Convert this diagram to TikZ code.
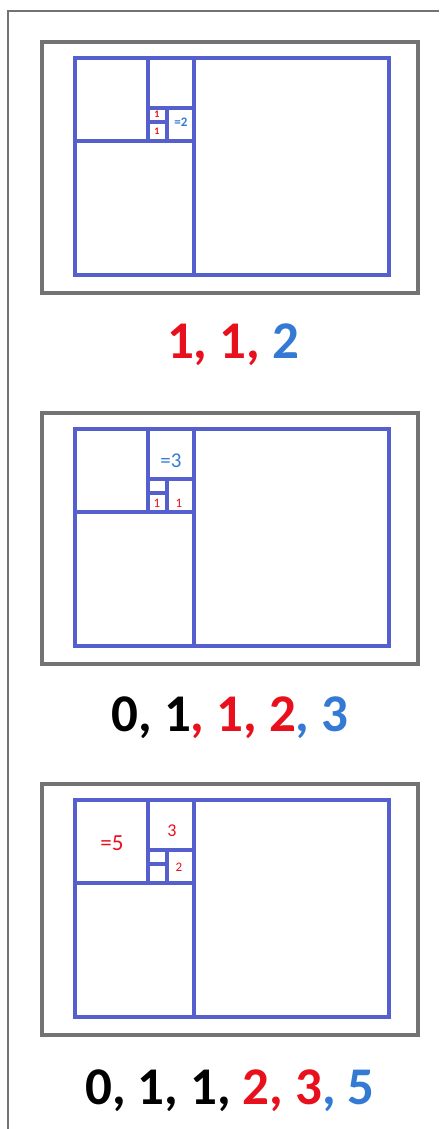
\documentclass[tikz,border=0pt]{standalone}
\usepackage{fontspec}
\setmainfont{Carlito}
\usetikzlibrary{positioning}
\definecolor{fbblue}{RGB}{85,95,205}
\definecolor{fbframe}{RGB}{115,115,115}
\definecolor{fbred}{RGB}{232,16,28}
\definecolor{fbnum}{RGB}{52,122,212}

\begin{document}
\begin{tikzpicture}[x=1pt,y=-1pt,
  tile/.style={draw=fbblue,line width=3.2pt},
  panel/.style={draw=fbframe,line width=3.6pt},
  seqtext/.style={anchor=base,inner sep=0pt,font=\fontsize{53}{63}\selectfont\bfseries},
  tag/.style={inner sep=0pt}]
  \useasboundingbox (0,0) rectangle (439,1129);
  \draw[fbframe,line width=2pt] (8,1129) |- (439,11);
  % three copies of the same tiling
  \foreach \o in {58,429,800} {
    \draw[panel] (42,\o-16) rectangle (418,\o+235);
    \draw[tile] (75,\o) rectangle (389,\o+217);
    \draw[tile] (194,\o) -- (194,\o+217);
    \draw[tile] (75,\o+83) -- (194,\o+83);
    \draw[tile] (148,\o) -- (148,\o+83);
    \draw[tile] (148,\o+50) -- (194,\o+50);
    \draw[tile] (167,\o+50) -- (167,\o+83);
    \draw[tile] (148,\o+64) -- (167,\o+64);
  }
  % squares in the first panel
  \node[tag,fbred,font=\fontsize{10}{11}\selectfont\bfseries] (p1a) at (157,114) {1};
  \node[tag,fbred,font=\fontsize{10}{11}\selectfont\bfseries] (p1b) at (157,131) {1};
  \node[tag,fbnum,font=\fontsize{13}{15}\selectfont\bfseries] (p1c) at (181,122) {=2};
  % squares in the second panel
  \node[tag,fbnum,font=\fontsize{21}{23}\selectfont] (p2a) at (171,461) {=3};
  \node[tag,fbred,font=\fontsize{13}{15}\selectfont] (p2b) at (157,503) {1};
  \node[tag,fbred,font=\fontsize{13}{15}\selectfont] (p2c) at (179,503) {1};
  % squares in the third panel
  \node[tag,fbred,font=\fontsize{23}{25}\selectfont] (p3a) at (112,843) {=5};
  \node[tag,fbred,font=\fontsize{18}{20}\selectfont] (p3b) at (172,831) {3};
  \node[tag,fbred,font=\fontsize{13}{15}\selectfont] (p3c) at (179,867) {2};
  % sequences
  \node[seqtext] (seq1) at (233,358) {\color{fbred}1, 1, \color{fbnum}2};
  \node[seqtext] (seq2) at (230,731) {0, 1\color{fbred}, 1, 2\color{fbnum}, 3};
  \node[seqtext] (seq3) at (230,1104) {0, 1, 1, \color{fbred}2, 3\color{fbnum}, 5};
\end{tikzpicture}
\end{document}
